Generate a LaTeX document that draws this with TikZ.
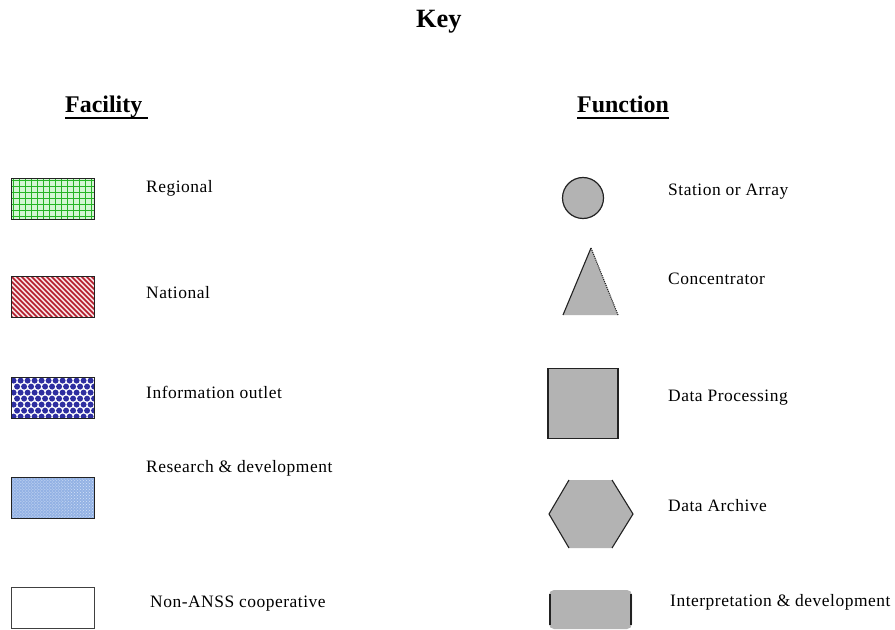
\documentclass[tikz,border=0pt]{standalone}
\usepackage{fontspec}
\setmainfont{Liberation Serif}
\newfontfamily\labfont[LetterSpace=3]{Liberation Serif}
\usetikzlibrary{patterns}

\definecolor{shapegray}{HTML}{B3B3B3}
\definecolor{edgedark}{HTML}{222222}
\definecolor{gridgreen}{HTML}{25B525}
\definecolor{gridpale}{HTML}{D4F6D4}
\definecolor{natred}{HTML}{B31B2B}
\definecolor{natpink}{HTML}{F8E0E2}
\definecolor{dotblue}{HTML}{2E2EA0}
\definecolor{rdblue}{HTML}{93B2E4}
\definecolor{rddot}{HTML}{D6E2F7}

\begin{document}
\begin{tikzpicture}[x=1bp,y=-1bp,
  swatch/.style={draw=edgedark, line width=1.2bp, minimum width=83bp,
    minimum height=41bp, inner sep=0pt, anchor=north west},
  regional/.style={fill=gridpale, path picture={
    \foreach \k in {0,...,14}{
      \draw[gridgreen, line width=1.7bp]
        ([xshift=\k*6bp+2bp]path picture bounding box.north west) --
        ([xshift=\k*6bp+2bp]path picture bounding box.south west);}
    \foreach \k in {0,...,7}{
      \draw[gridgreen, line width=1.7bp]
        ([yshift=-\k*6bp-2bp]path picture bounding box.north west) --
        ([yshift=-\k*6bp-2bp]path picture bounding box.north east);}
  }},
  national/.style={fill=natpink, path picture={
    \foreach \k in {-10,...,20}{
      \draw[natred, line width=1.5bp]
        ([xshift=\k*5bp]path picture bounding box.north west) -- ++(46bp,-46bp);}
  }},
  outlet/.style={fill=white, path picture={
    \foreach \j in {0,...,7}{
      \foreach \i in {0,...,12}{
        \fill[dotblue]
          ([xshift={\i*7bp+mod(\j,2)*3.5bp+2bp}, yshift={-\j*6bp-3bp}]path picture bounding box.north west)
          circle (3bp);}}
  }},
  research/.style={preaction={fill=rdblue}, pattern=crosshatch dots, pattern color=rddot},
  cooperative/.style={fill=white, draw=black!75},
  lab/.style={anchor=base west, inner sep=0pt, font=\labfont\fontsize{17.5}{20}\selectfont},
  head/.style={anchor=base west, inner sep=0pt, font=\bfseries\fontsize{24}{28}\selectfont},
  func/.style={fill=shapegray},
  rim/.style={draw=edgedark, line width=1.2bp},
]
\useasboundingbox (0,0) rectangle (895,630);

% title and column headings
\node[anchor=base west, inner sep=0pt, font=\bfseries\fontsize{26.5}{30}\selectfont] (title) at (416,28) {Key};
\node[head] (facility) at (65,113) {Facility};
\node[head] (function) at (577,113) {Function};
\draw[line width=1.6bp] ([yshift=-5bp]facility.base west) -- ([yshift=-5bp,xshift=6bp]facility.base east);
\draw[line width=1.6bp] ([yshift=-5bp]function.base west) -- ([yshift=-5bp]function.base east);

% facility swatches
\node[swatch, regional] (reg) at (11,178) {};
\node[swatch, national] (nat) at (11,276) {};
\node[swatch, outlet] (info) at (11,377) {};
\node[swatch, research] (rd) at (11,477) {};
\node[swatch, cooperative] (non) at (11,587) {};

\node[lab] (regl) at (146,193) {Regional};
\node[lab] (natl) at (146,298) {National};
\node[lab] (infol) at (146,398) {Information outlet};
\node[lab] (rdl) at (146,472) {Research \& development};
\node[lab] (nonl) at (150,607) {Non-ANSS cooperative};

% function symbols
\node[circle, func, rim, minimum size=41bp, inner sep=0pt] (sta) at (583,198) {};

\coordinate (conapex) at (591,248);
\coordinate (conleft) at (563,315);
\coordinate (conright) at (618,315);
\fill[shapegray] (conapex) -- (conleft) -- (conright) -- cycle;
\draw[edgedark, line width=1.1bp] (conleft) -- (conapex);
\draw[edgedark, line width=1.1bp, densely dotted] (conapex) -- (conright);

\node[rectangle, func, rim, minimum size=70bp, inner sep=0pt] (proc) at (583,403.5) {};

\coordinate (hw) at (549,514);
\coordinate (hnw) at (569,480);
\coordinate (hne) at (612,480);
\coordinate (he) at (633,514);
\coordinate (hse) at (612,548);
\coordinate (hsw) at (569,548);
\fill[shapegray] (hw) -- (hnw) -- (hne) -- (he) -- (hse) -- (hsw) -- cycle;
\draw[edgedark, line width=1.1bp] (hsw) -- (hw) -- (hnw);
\draw[edgedark, line width=1.1bp] (hne) -- (he) -- (hse);

\coordinate (inw) at (549,590);
\coordinate (ise) at (632,629);
\fill[shapegray, rounded corners=5bp] (inw) rectangle (ise);
\draw[edgedark, line width=1.8bp] (550,594) -- (550,625);
\draw[edgedark, line width=1.8bp] (631,594) -- (631,625);

\node[lab] (stal) at (668,196) {Station or Array};
\node[lab] (conl) at (668,284) {Concentrator};
\node[lab] (procl) at (668,401) {Data Processing};
\node[lab] (archl) at (668,511) {Data Archive};
\node[lab] (interpl) at (670,606) {Interpretation \& development};
\end{tikzpicture}
\end{document}
